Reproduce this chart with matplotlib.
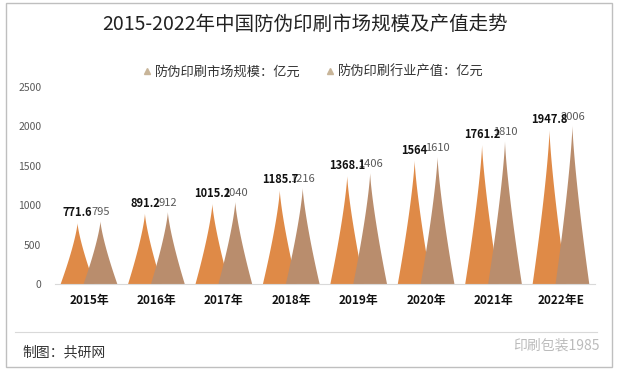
import matplotlib.pyplot as plt
import numpy as np
from matplotlib.lines import Line2D
from matplotlib.patches import Rectangle

plt.rcParams['font.family'] = ['Noto Sans CJK SC', 'DejaVu Sans']

# data
years = ['2015年', '2016年', '2017年', '2018年', '2019年', '2020年', '2021年', '2022年E']
market_size = [771.6, 891.2, 1015.2, 1185.7, 1368.1, 1564, 1761.2, 1947.8]
output_value = [795, 912, 1040, 1216, 1406, 1610, 1810, 2006]
series_names = ['防伪印刷市场规模：亿元', '防伪印刷行业产值：亿元']
colors = ['#DF8A47', '#B98D6D']

fig = plt.figure(figsize=(6.19, 3.72), dpi=100)
ax = fig.add_axes([0.0893, 0.2366, 0.8714, 0.5296])


def spike(ax, xc, h, hw, color):
    # Excel-style pointed shape with concave sides
    t = np.linspace(0, 1, 60)
    y = h * t
    off = hw * (1 - t) ** 1.3
    xs = np.concatenate([xc - off, (xc + off)[::-1]])
    ys = np.concatenate([y, y[::-1]])
    ax.fill(xs, ys, color=color, lw=0, zorder=2)


x = np.arange(len(years))
shift = 0.17
hw = 0.25
for i in range(len(years)):
    spike(ax, x[i] - shift, market_size[i], hw, colors[0])
    spike(ax, x[i] + shift, output_value[i], hw, colors[1])
    ax.annotate(f'{market_size[i]:g}', (x[i] - shift, market_size[i]),
                xytext=(0, 3), textcoords='offset points', ha='center', va='bottom',
                fontsize=8, fontweight='bold', color='#111111', zorder=4)
    ax.annotate(f'{output_value[i]:g}', (x[i] + shift, output_value[i]),
                xytext=(0, 3), textcoords='offset points', ha='center', va='bottom',
                fontsize=8, color='#595959', zorder=3)

ax.set_xlim(-0.5, len(years) - 0.5)
ax.set_ylim(0, 2500)
ax.set_yticks(np.arange(0, 2501, 500))
ax.set_xticks(x)
ax.set_xticklabels(years, fontsize=8.5, fontweight='bold', color='#111111')
ax.tick_params(axis='y', length=0, labelsize=7.5, labelcolor='#595959', pad=10)
ax.tick_params(axis='x', length=0, pad=7)
for s in ['top', 'right', 'left']:
    ax.spines[s].set_visible(False)
ax.spines['bottom'].set_color('#D9D9D9')
ax.patch.set_alpha(0)

fig.text(0.493, 0.933, '2015-2022年中国防伪印刷市场规模及产值走势', ha='center', va='center',
         fontsize=14, color='#222222')

handles = [Line2D([], [], marker='^', ls='', color='#C8B599', markersize=5) for _ in series_names]
fig.legend(handles, series_names, loc='center', bbox_to_anchor=(0.505, 0.806), ncol=2,
           frameon=False, fontsize=9.5, handletextpad=0.2, columnspacing=1.8,
           handlelength=0.8, labelcolor='#333333')

# footer
fig.add_artist(Line2D([0.025, 0.965], [1 - 332 / 372] * 2, color='#D9D9D9', lw=0.8))
fig.text(0.036, 1 - 352 / 372, '制图：共研网', ha='left', va='center', fontsize=10, color='#333333')
fig.text(0.968, 1 - 346 / 372, '印刷包装1985', ha='right', va='center', fontsize=10, color='#BBBBBB')

# outer border
fig.add_artist(Rectangle((6 / 619, 1 - 367 / 372), 606 / 619, 364 / 372, transform=fig.transFigure,
                         fill=False, ec='#BFBFBF', lw=1))

fig.savefig('out.png', dpi=100)
